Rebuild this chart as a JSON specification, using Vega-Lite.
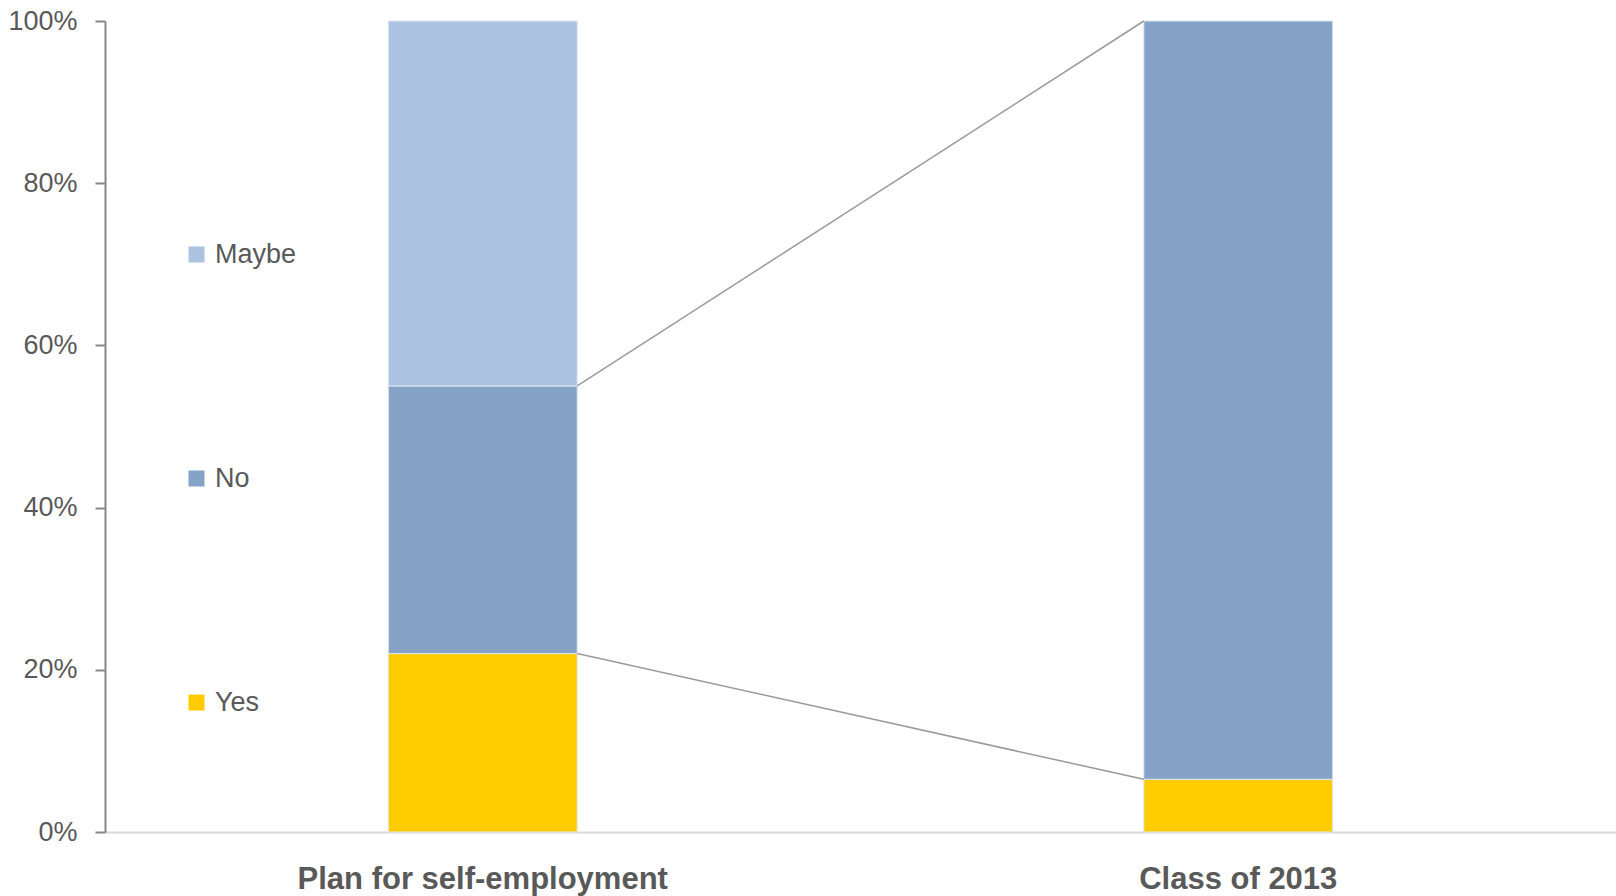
{
  "$schema": "https://vega.github.io/schema/vega-lite/v6.json",
  "width": 1511,
  "height": 811,
  "autosize": {"type": "none"},
  "padding": {"left": 105, "top": 21, "right": 0, "bottom": 64},
  "background": "white",
  "config": {
    "view": {"stroke": null},
    "font": "Liberation Sans"
  },
  "datasets": {
    "bars": [
      {"cat": "Plan for self-employment", "answer": "Yes", "rank": 1, "share": 0.22},
      {"cat": "Plan for self-employment", "answer": "No", "rank": 2, "share": 0.33},
      {"cat": "Plan for self-employment", "answer": "Maybe", "rank": 3, "share": 0.45},
      {"cat": "Class of 2013", "answer": "Yes", "rank": 1, "share": 0.065},
      {"cat": "Class of 2013", "answer": "No", "rank": 2, "share": 0.935}
    ],
    "links": [
      {"from": "Plan for self-employment", "to": "Class of 2013", "y1": 0.22, "y2": 0.065},
      {"from": "Plan for self-employment", "to": "Class of 2013", "y1": 0.55, "y2": 1.0}
    ]
  },
  "layer": [
    {
      "data": {"name": "bars"},
      "mark": {"type": "bar", "stroke": "#dfe6f0", "strokeWidth": 1},
      "encoding": {
        "x": {
          "field": "cat",
          "type": "nominal",
          "scale": {"domain": ["Plan for self-employment", "Class of 2013"], "paddingInner": 0.75, "paddingOuter": 0.375},
          "axis": {
            "title": null,
            "ticks": false,
            "labelAngle": 0,
            "labelLimit": 0,
            "labelFontSize": 31,
            "labelFontWeight": "bold",
            "labelColor": "#595959",
            "labelPadding": 32,
            "domainColor": "#d9d9d9",
            "domainWidth": 2
          }
        },
        "y": {
          "field": "share",
          "type": "quantitative",
          "stack": "zero",
          "scale": {"domain": [0, 1]},
          "axis": {
            "title": null,
            "format": ".0%",
            "values": [0, 0.2, 0.4, 0.6, 0.8, 1],
            "grid": false,
            "labelFontSize": 27,
            "labelColor": "#595959",
            "labelPadding": 18,
            "tickSize": 10,
            "tickColor": "#868686",
            "tickWidth": 2,
            "domainColor": "#868686",
            "domainWidth": 2
          }
        },
        "color": {
          "field": "answer",
          "type": "nominal",
          "scale": {"domain": ["Maybe", "No", "Yes"], "range": ["#abc2e0", "#84a3c6", "#ffcc00"]},
          "legend": {
            "title": null,
            "orient": "none",
            "legendX": 78,
            "legendY": 220,
            "symbolType": "square",
            "symbolSize": 256,
            "symbolStrokeWidth": 0,
            "labelFontSize": 27,
            "labelColor": "#595959",
            "labelOffset": 5,
            "rowPadding": 196
          }
        },
        "order": {"field": "rank", "type": "quantitative"}
      }
    },
    {
      "data": {"name": "links"},
      "mark": {"type": "rule", "color": "#9a9a9a", "strokeWidth": 1.5},
      "encoding": {
        "x": {"field": "from", "type": "nominal", "bandPosition": 1},
        "x2": {"field": "to", "bandPosition": 0},
        "y": {"field": "y1", "type": "quantitative"},
        "y2": {"field": "y2"}
      }
    }
  ]
}
